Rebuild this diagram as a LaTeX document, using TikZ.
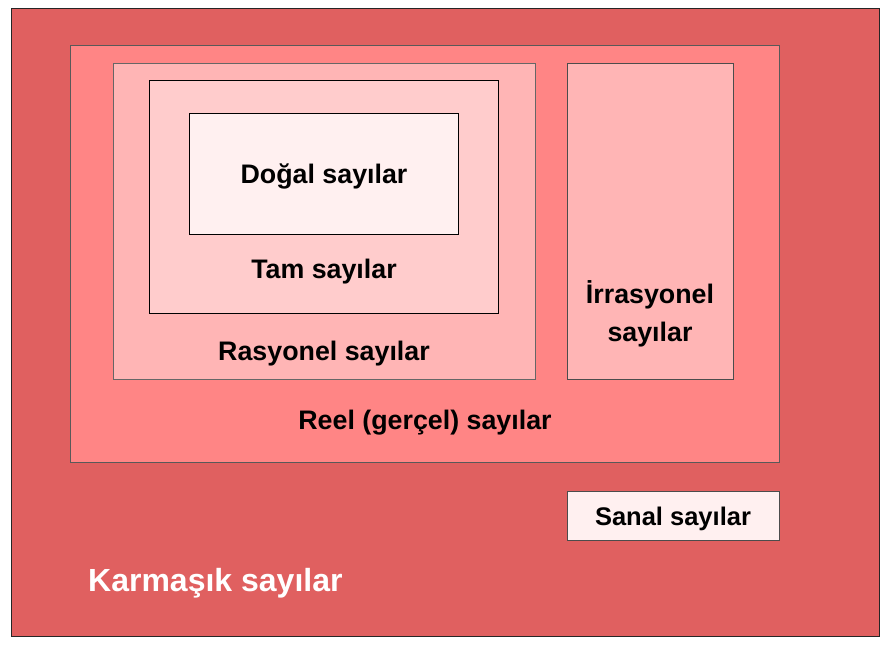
\documentclass[tikz,border=0pt]{standalone}
\usepackage{fontspec}
\setmainfont{Liberation Sans}
\definecolor{cK}{HTML}{E06060}
\definecolor{cR}{HTML}{FF8585}
\definecolor{cQ}{HTML}{FFB5B5}
\definecolor{cZ}{HTML}{FFCCCC}
\definecolor{cN}{HTML}{FFF0F0}
\begin{document}
\begin{tikzpicture}[x=1pt,y=-1pt,
  setbox/.style={line width=0.9pt},
  lbl/.style={font=\fontsize{26.8}{32}\selectfont\bfseries, anchor=base, inner sep=0pt}]
\useasboundingbox (0,0) rectangle (892,647);
\draw[setbox, fill=cK, draw=black!85] (11,8) rectangle (879,636);
\draw[setbox, fill=cR, draw=black!65] (70,45) rectangle (779,462);
\draw[setbox, fill=cQ, draw=black!60] (113,63) rectangle (535,379);
\draw[setbox, fill=cZ, draw=black] (149,80) rectangle (498,313);
\draw[setbox, fill=cN, draw=black] (189,113) rectangle (458,234);
\draw[setbox, fill=cQ, draw=black!70] (567,63) rectangle (733,379);
\draw[setbox, fill=cN, draw=black!70] (567,491) rectangle (779,540);
\node[lbl] (dogal) at (324,183.5) {Doğal sayılar};
\node[lbl] (tam) at (324,279) {Tam sayılar};
\node[lbl] (ras) at (324,360) {Rasyonel sayılar};
\node[lbl] (irr1) at (650,304) {İrrasyonel};
\node[lbl] (irr2) at (650,341) {sayılar};
\node[lbl] (reel) at (425,429) {Reel (gerçel) sayılar};
\node[lbl, font=\fontsize{25.5}{30}\selectfont\bfseries] (sanal) at (673,525) {Sanal sayılar};
\node[lbl, anchor=base west, text=white, font=\fontsize{32}{36}\selectfont\bfseries] (karm) at (88,591.7) {Karmaşık sayılar};
\end{tikzpicture}
\end{document}
